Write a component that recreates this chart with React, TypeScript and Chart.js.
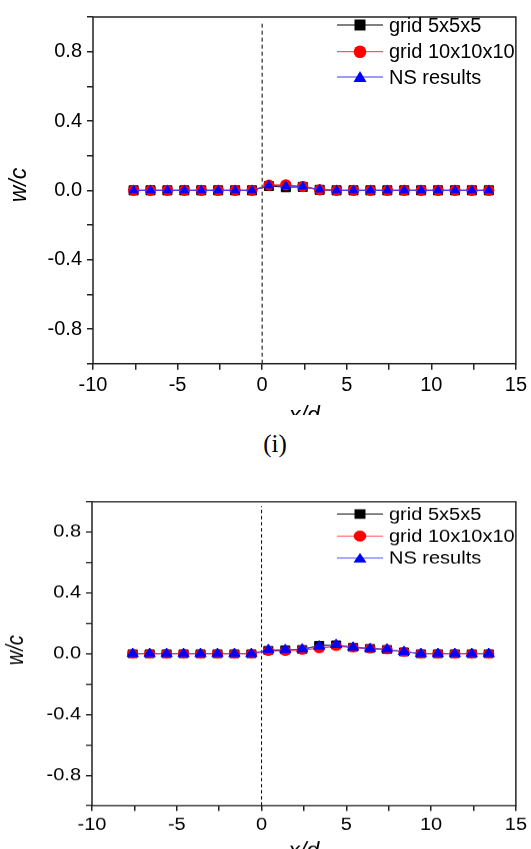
import React, { useEffect, useRef } from 'react';
import { Chart, registerables } from 'chart.js';

Chart.register(...registerables);

// ---------- data ----------
const xPositions = [-7.6, -6.6, -5.6, -4.6, -3.6, -2.6, -1.6, -0.6, 0.4, 1.4, 2.4, 3.4, 4.4, 5.4, 6.4, 7.4, 8.4, 9.4, 10.4, 11.4, 12.4, 13.4];

const seriesLabels = ['grid 5x5x5', 'grid 10x10x10', 'NS results'];

// panel (top)
const topGrid5 = [0, 0, 0, 0, 0, 0, 0, 0, 0.025, 0.018, 0.02, 0.003, 0, 0, 0, 0, 0, 0, 0, 0, 0, 0];
const topGrid10 = [0, 0, 0, 0, 0, 0, 0, 0, 0.03, 0.032, 0.022, 0.003, 0, 0, 0, 0, 0, 0, 0, 0, 0, 0];
const topNS = [0, 0, 0, 0, 0, 0, 0, 0, 0.028, 0.025, 0.022, 0.005, 0, 0, 0, 0, 0, 0, 0, 0, 0, 0];

// panel (bottom)
const botGrid5 = [0, 0, 0, 0, 0, 0, 0, 0, 0.022, 0.025, 0.028, 0.055, 0.058, 0.042, 0.035, 0.028, 0.012, 0, 0, 0, 0, 0];
const botGrid10 = [0, 0, 0, 0, 0, 0, 0, 0, 0.018, 0.018, 0.025, 0.035, 0.05, 0.04, 0.033, 0.028, 0.012, 0, 0, 0, 0, 0];
const botNS = [0, 0, 0, 0, 0, 0, 0, 0, 0.026, 0.026, 0.03, 0.049, 0.059, 0.042, 0.033, 0.03, 0.013, 0, 0, 0, 0, 0];

const xRange = [-10, 15];
const yRange = [-1, 1];
const refLineX = 0;
const refLineY = [-1, 0.97];

const xTitle = 'x/d';
const yTitle = 'w/c';
const panelLabel = '(i)';

const FONT = "Arial, 'Liberation Sans', sans-serif";

type PanelCfg = {
  top: number;
  displayH: number;
  sy: number;
  plotTop: number;
  plotBottom: number;
  plotLeft: number;
  plotRight: number;
  legendRows: number[];
  xTitleBaseline: number;
  yTitleCenter: [number, number];
  triRadius: number;
  values: number[][];
};

function drawMarker(ctx: CanvasRenderingContext2D, kind: number, x: number, y: number, color: string) {
  ctx.save();
  ctx.fillStyle = color;
  ctx.beginPath();
  if (kind === 0) {
    ctx.rect(x - 5.5, y - 5.5, 11, 11);
  } else if (kind === 1) {
    ctx.arc(x, y, 6.3, 0, Math.PI * 2);
  } else {
    ctx.moveTo(x, y - 6);
    ctx.lineTo(x + 6.5, y + 5);
    ctx.lineTo(x - 6.5, y + 5);
    ctx.closePath();
  }
  ctx.fill();
  ctx.restore();
}

const colors = ['#000000', '#ff0000', '#0000ff'];
const lineColors = ['#000000', '#ff3030', '#3a3aff'];

function Panel({ cfg }: { cfg: PanelCfg }) {
  const ref = useRef<HTMLCanvasElement | null>(null);
  useEffect(() => {
    const canvas = ref.current!;
    const W = 531;
    const H = Math.round(cfg.displayH / cfg.sy);
    canvas.width = W;
    canvas.height = H;
    canvas.style.width = W + 'px';
    canvas.style.height = cfg.displayH + 'px';
    const sy = cfg.sy;

    const mk = (vals: number[]) => xPositions.map((x, i) => ({ x, y: vals[i] }));

    const overlay = {
      id: 'overlay',
      afterDraw(chart: any) {
        const ctx: CanvasRenderingContext2D = chart.ctx;
        const a = chart.chartArea;
        ctx.save();
        // frame
        ctx.strokeStyle = '#222';
        ctx.lineWidth = 1.5;
        ctx.strokeRect(a.left, a.top, a.right - a.left, a.bottom - a.top);
        // legend
        cfg.legendRows.forEach((ry, i) => {
          const y = ry / sy;
          ctx.strokeStyle = lineColors[i];
          ctx.lineWidth = 1;
          ctx.beginPath();
          ctx.moveTo(337, y);
          ctx.lineTo(383, y);
          ctx.stroke();
          drawMarker(ctx, i, 360, y, colors[i]);
          ctx.fillStyle = '#000';
          ctx.font = `20px ${FONT}`;
          ctx.textBaseline = 'middle';
          ctx.textAlign = 'left';
          ctx.fillText(seriesLabels[i], 389, y + 1);
        });
        // axis titles
        ctx.fillStyle = '#000';
        ctx.font = `italic 23px ${FONT}`;
        ctx.textAlign = 'center';
        ctx.textBaseline = 'alphabetic';
        ctx.fillText(xTitle, (a.left + a.right) / 2, cfg.xTitleBaseline / sy);
        ctx.save();
        ctx.translate(cfg.yTitleCenter[0], cfg.yTitleCenter[1] / sy);
        ctx.rotate(-Math.PI / 2);
        ctx.textBaseline = 'middle';
        ctx.fillText(yTitle, 0, 0);
        ctx.restore();
        ctx.restore();
      },
    };

    const chart = new Chart(canvas, {
      type: 'scatter',
      data: {
        datasets: [
          {
            label: 'ref',
            data: [{ x: refLineX, y: refLineY[0] }, { x: refLineX, y: refLineY[1] }],
            showLine: true,
            borderColor: '#000',
            borderWidth: 1,
            borderDash: [4, 3],
            pointRadius: 0,
            order: 10,
          },
          {
            label: seriesLabels[0],
            data: mk(cfg.values[0]),
            showLine: true,
            borderColor: lineColors[0],
            borderWidth: 1,
            pointStyle: 'rect',
            pointRadius: 6.4,
            pointBackgroundColor: colors[0],
            pointBorderColor: colors[0],
            order: 3,
          },
          {
            label: seriesLabels[1],
            data: mk(cfg.values[1]),
            showLine: true,
            borderColor: lineColors[1],
            borderWidth: 1.2,
            pointStyle: 'circle',
            pointRadius: 5,
            pointBackgroundColor: colors[1],
            pointBorderColor: colors[1],
            order: 2,
          },
          {
            label: seriesLabels[2],
            data: mk(cfg.values[2]),
            showLine: true,
            borderColor: lineColors[2],
            borderWidth: 1,
            pointStyle: 'triangle',
            pointRadius: cfg.triRadius,
            pointBackgroundColor: colors[2],
            pointBorderColor: colors[2],
            order: 1,
          },
        ],
      },
      options: {
        responsive: false,
        animation: false,
        devicePixelRatio: 1,
        layout: {
          padding: {
            top: cfg.plotTop / sy,
            right: W - cfg.plotRight,
            bottom: 0,
            left: 0,
          },
        },
        plugins: {
          legend: { display: false },
          tooltip: { enabled: false },
        },
        scales: {
          x: {
            type: 'linear',
            min: xRange[0],
            max: xRange[1],
            afterFit: (s: any) => {
              s.height = (cfg.displayH - cfg.plotBottom) / sy;
            },
            ticks: {
              stepSize: 2.5,
              autoSkip: false,
              maxRotation: 0,
              padding: 4,
              color: '#000',
              font: { family: FONT, size: 20 },
              callback: (v: any) => (Number(v) % 5 === 0 ? String(v) : ''),
            },
            grid: { drawOnChartArea: false, drawTicks: true, tickLength: 6, color: '#222', lineWidth: 1.5 },
            border: { display: false },
          },
          y: {
            type: 'linear',
            min: yRange[0],
            max: yRange[1],
            afterFit: (s: any) => {
              s.width = cfg.plotLeft;
            },
            ticks: {
              stepSize: 0.2,
              autoSkip: false,
              padding: 5,
              color: '#000',
              font: { family: FONT, size: 20 },
              callback: (v: any) => {
                const k = Math.round(Number(v) * 10);
                return k % 4 === 0 ? (k / 10).toFixed(1) : '';
              },
            },
            grid: { drawOnChartArea: false, drawTicks: true, tickLength: 6, color: '#222', lineWidth: 1.5 },
            border: { display: false },
          },
        },
      },
      plugins: [overlay],
    } as any);
    return () => chart.destroy();
  }, [cfg]);

  return (
    <canvas
      ref={ref}
      style={{ position: 'absolute', left: 0, top: cfg.top, width: 531, height: cfg.displayH, display: 'block' }}
    />
  );
}

const topCfg: PanelCfg = {
  top: 0,
  displayH: 415,
  sy: 1,
  plotTop: 12,
  plotBottom: 363.7,
  plotLeft: 93,
  plotRight: 519,
  legendRows: [25, 51.7, 77],
  xTitleBaseline: 423,
  yTitleCenter: [20, 185],
  triRadius: 5,
  values: [topGrid5, topGrid10, topNS],
};

const botCfg: PanelCfg = {
  top: 440,
  displayH: 409,
  sy: 0.87,
  plotTop: 61.7,
  plotBottom: 365.7,
  plotLeft: 92,
  plotRight: 520,
  legendRows: [74, 96, 118],
  xTitleBaseline: 417,
  yTitleCenter: [17, 210],
  triRadius: 6.5,
  values: [botGrid5, botGrid10, botNS],
};

export default function App() {
  return (
    <div style={{ position: 'fixed', left: 0, top: 0, width: 531, height: 849, background: '#fff', overflow: 'hidden' }}>
      <Panel cfg={topCfg} />
      <div
        style={{
          position: 'absolute',
          left: 0,
          width: 550,
          top: 430,
          textAlign: 'center',
          fontFamily: "'Liberation Serif', 'DejaVu Serif', serif",
          fontSize: 25,
          lineHeight: '28px',
          color: '#000',
        }}
      >
        {panelLabel}
      </div>
      <Panel cfg={botCfg} />
    </div>
  );
}
